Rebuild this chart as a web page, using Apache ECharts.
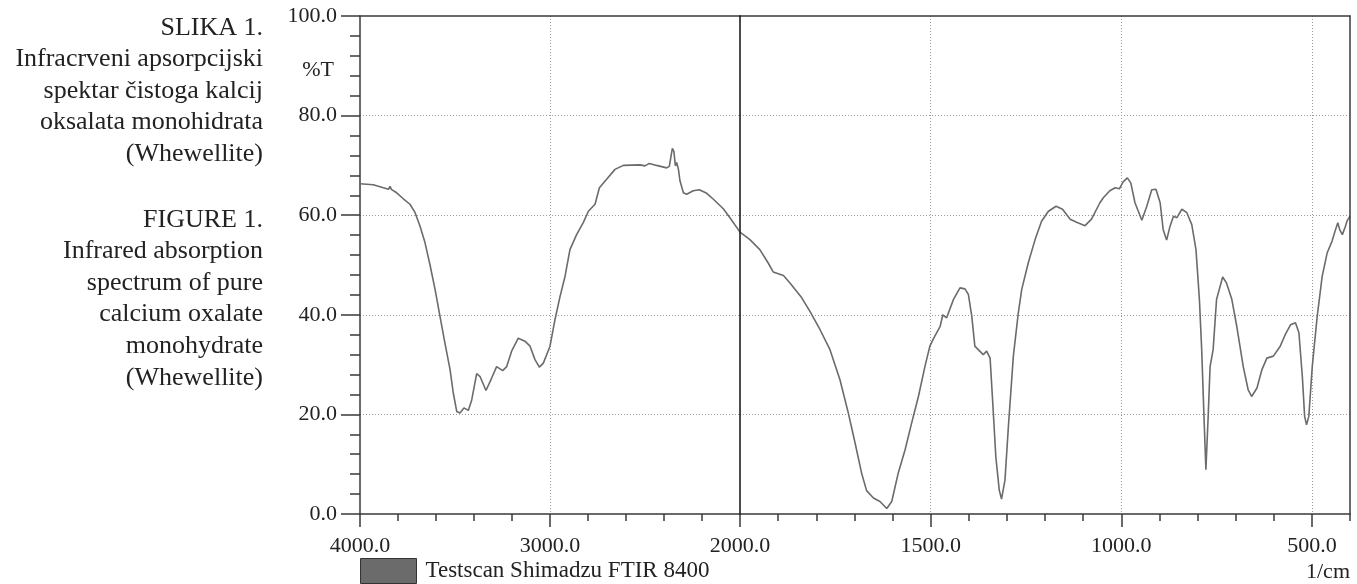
<!DOCTYPE html>
<html><head><meta charset="utf-8">
<script src="https://cdn.jsdelivr.net/npm/echarts@6/dist/echarts.min.js"></script>
<style>html,body{margin:0;padding:0;background:#fff}#c{width:1357px;height:584px}</style>
</head><body><div id="c"></div>
<script>
// ---- data (wavenumber in 1/cm, transmittance in %T) ----
const wavenumbers = [
 4000,3930,3877,3850,3842,3835,3807,3772,3737,3710,3684,3658,3632,3605,3579,3553,3526,3509,3491,3474,
 3453,3430,3412,3386,3368,3337,3307,3281,3249,3228,3202,3167,3132,3105,3079,3056,3035,3000,2974,2947,
 2921,2895,2860,2825,2798,2763,2740,2702,2658,2614,2526,2500,2477,2439,2386,2372,2356,2348,2340,2333,
 2324,2316,2298,2281,2246,2214,2175,2140,2088,2053,2000,1974,1948,1926,1913,1886,1869,1838,1815,1790,
 1764,1738,1716,1698,1681,1668,1650,1633,1615,1602,1585,1567,1550,1532,1515,1502,1489,1475,1468,1458,
 1440,1423,1410,1401,1392,1384,1375,1362,1353,1344,1337,1329,1320,1314,1305,1296,1283,1270,1261,1244,
 1226,1209,1191,1171,1154,1134,1117,1095,1078,1056,1047,1030,1016,1005,995,984,975,964,946,933,
 920,909,898,890,881,872,863,854,841,828,815,804,795,789,783,778,772,767,759,750,
 734,724,710,697,680,667,658,644,631,618,601,583,570,556,543,534,525,519,514,508,
 499,486,473,460,447,438,432,427,420,412,408,400
];
const transmittance = [
 66.3,66.1,65.5,65.2,65.8,65.2,64.5,63.3,62.2,60.5,57.8,54.5,50.1,45.1,39.7,34.3,29.0,24.3,20.6,20.3,
 21.3,20.8,22.9,28.2,27.6,24.8,27.3,29.6,28.8,29.6,32.7,35.3,34.7,33.7,31.0,29.5,30.3,33.7,39.0,43.7,
 47.7,53.1,56.1,58.5,60.8,62.2,65.5,67.2,69.2,70.0,70.1,69.9,70.4,70.0,69.5,69.8,73.4,72.8,69.9,70.6,
 69.2,66.9,64.5,64.2,64.9,65.1,64.4,63.2,61.3,59.5,56.6,55.1,53.1,50.4,48.6,47.9,46.4,43.4,40.5,37.0,
 33.0,27.0,20.3,14.2,8.2,4.7,3.2,2.5,1.1,2.5,8.2,12.9,18.2,23.6,29.6,33.7,35.7,37.7,40.0,39.4,
 43.1,45.4,45.2,44.1,39.7,33.7,33.0,32.0,32.7,31.3,22.3,11.5,4.8,3.0,6.8,17.6,31.7,40.4,45.1,50.4,
 55.1,58.8,60.8,61.8,61.2,59.2,58.6,57.9,59.2,62.5,63.5,64.9,65.5,65.3,66.7,67.5,66.5,62.5,59.0,61.8,
 65.1,65.2,62.5,57.1,55.0,57.8,59.8,59.5,61.2,60.5,58.1,53.1,43.1,33.0,19.6,8.9,19.6,29.6,33.0,43.1,
 47.6,46.4,43.1,37.7,29.6,24.9,23.6,25.3,29.0,31.3,31.7,33.7,36.0,38.0,38.4,36.4,27.6,19.6,17.9,19.6,
 29.6,39.7,47.7,52.4,54.8,57.1,58.5,57.1,56.1,57.8,58.8,59.8
];
const yTickValues = [0, 20, 40, 60, 80, 100];
const xMajorLeft = [4000, 3000, 2000];
const xMajorRight = [500, 1000, 1500, 2000];
const seriesName = 'Testscan Shimadzu FTIR 8400';
const yUnit = '%T';
const xUnit = '1/cm';
const captionSl = ['SLIKA 1.', 'Infracrveni apsorpcijski', 'spektar čistoga kalcij', 'oksalata monohidrata', '(Whewellite)'];
const captionEn = ['FIGURE 1.', 'Infrared absorption', 'spectrum of pure', 'calcium oxalate', 'monohydrate', '(Whewellite)'];

// ---- build ----
const pairs = wavenumbers.map((w, i) => [w, transmittance[i]]);
const leftData = pairs.filter(p => p[0] >= 2000);
const rightData = pairs.filter(p => p[0] <= 2000);

const FONT = '"Liberation Serif", "Times New Roman", serif';
const AX = '#3a3a3a';
const grid = { type: [1, 2], color: '#9a9a9a', width: 1 };
const fmt = v => Number(v).toFixed(1);
const line = (c, w) => ({ show: true, onZero: false, lineStyle: { color: c || AX, width: w || 1.5 } });
const noLine = { show: false, onZero: false };

const chart = echarts.init(document.getElementById('c'), null, { renderer: 'canvas' });
chart.setOption({
  animation: false,
  backgroundColor: '#fff',
  grid: [
    { left: 360, top: 16, width: 380, height: 498 },
    { left: 740, top: 16, width: 610, height: 498 }
  ],
  xAxis: [
    { gridIndex: 0, type: 'value', min: 2000, max: 4000, interval: 1000, inverse: true, position: 'bottom',
      axisLine: line(),
      axisTick: { show: true, customValues: xMajorLeft, length: 13, lineStyle: { color: AX, width: 1.5 } },
      minorTick: { show: true, splitNumber: 5, length: 7, lineStyle: { color: AX, width: 1.5 } },
      axisLabel: { showMinLabel: false, formatter: fmt, margin: 21, color: '#222', fontFamily: FONT, fontSize: 22 },
      splitLine: { show: true, showMinLine: false, showMaxLine: false, lineStyle: grid } },
    { gridIndex: 1, type: 'value', min: 400, max: 2000, inverse: true, position: 'bottom',
      axisLine: line(),
      axisTick: { show: true, customValues: xMajorRight, length: 13, lineStyle: { color: AX, width: 1.5 } },
      axisLabel: { customValues: xMajorRight, formatter: fmt, margin: 21, color: '#222', fontFamily: FONT, fontSize: 22 },
      splitLine: { show: true, showMinLine: true, showMaxLine: false, lineStyle: grid } },
    { gridIndex: 1, type: 'value', min: 400, max: 2000, interval: 100, inverse: true, position: 'bottom',
      axisLine: noLine,
      axisTick: { show: true, length: 7, lineStyle: { color: AX, width: 1.5 } },
      axisLabel: { show: false }, splitLine: { show: false } },
    { gridIndex: 0, type: 'value', min: 2000, max: 4000, inverse: true, position: 'top', z: 5,
      axisLine: line(), axisTick: { show: false }, axisLabel: { show: false }, splitLine: { show: false } },
    { gridIndex: 1, type: 'value', min: 400, max: 2000, inverse: true, position: 'top', z: 5,
      axisLine: line(), axisTick: { show: false }, axisLabel: { show: false }, splitLine: { show: false } }
  ],
  yAxis: [
    { gridIndex: 0, type: 'value', min: 0, max: 100, interval: 20, position: 'left',
      axisLine: line(),
      axisTick: { show: true, length: 19, lineStyle: { color: AX, width: 1.5 } },
      minorTick: { show: true, splitNumber: 5, length: 10, lineStyle: { color: AX, width: 1.5 } },
      axisLabel: { formatter: fmt, margin: 23, color: '#222', fontFamily: FONT, fontSize: 22 },
      splitLine: { show: true, showMinLine: false, showMaxLine: false, lineStyle: grid } },
    { gridIndex: 0, type: 'value', min: 0, max: 100, position: 'right', z: 6,
      axisLine: line('#1e1e1e', 1.6), axisTick: { show: false }, axisLabel: { show: false }, splitLine: { show: false } },
    { gridIndex: 1, type: 'value', min: 0, max: 100, interval: 20, position: 'left',
      axisLine: noLine, axisTick: { show: false }, axisLabel: { show: false },
      splitLine: { show: true, showMinLine: false, showMaxLine: false, lineStyle: grid } },
    { gridIndex: 1, type: 'value', min: 0, max: 100, position: 'right', z: 5,
      axisLine: line(), axisTick: { show: false }, axisLabel: { show: false }, splitLine: { show: false } }
  ],
  legend: {
    left: 360, top: 558, padding: 0, itemWidth: 56, itemHeight: 25, icon: 'rect', selectedMode: false,
    itemStyle: { color: '#6b6b6b', borderColor: '#333', borderWidth: 1 },
    textStyle: { fontFamily: FONT, fontSize: 23, color: '#222', padding: [0, 0, 0, 4] },
    data: [seriesName]
  },
  series: [
    { name: seriesName, type: 'line', xAxisIndex: 0, yAxisIndex: 0, data: leftData, showSymbol: false,
      symbol: 'none', lineStyle: { color: '#6b6b6b', width: 1.6 }, itemStyle: { color: '#6b6b6b' } },
    { name: seriesName, type: 'line', xAxisIndex: 1, yAxisIndex: 2, data: rightData, showSymbol: false,
      symbol: 'none', lineStyle: { color: '#6b6b6b', width: 1.6 }, itemStyle: { color: '#6b6b6b' } }
  ],
  graphic: [
    { type: 'text', x: 263, y: 12, style: { text: captionSl.join('\n'), align: 'right', verticalAlign: 'top',
      font: '26px ' + FONT, lineHeight: 31.6, fill: '#222' } },
    { type: 'text', x: 263, y: 204, style: { text: captionEn.join('\n'), align: 'right', verticalAlign: 'top',
      font: '26px ' + FONT, lineHeight: 31.6, fill: '#222' } },
    { type: 'text', x: 334, y: 70, style: { text: yUnit, align: 'right', verticalAlign: 'middle',
      font: '22px ' + FONT, fill: '#222' } },
    { type: 'text', x: 1350, y: 572, style: { text: xUnit, align: 'right', verticalAlign: 'middle',
      font: '22px ' + FONT, fill: '#222' } }
  ]
});
</script>
</body></html>
